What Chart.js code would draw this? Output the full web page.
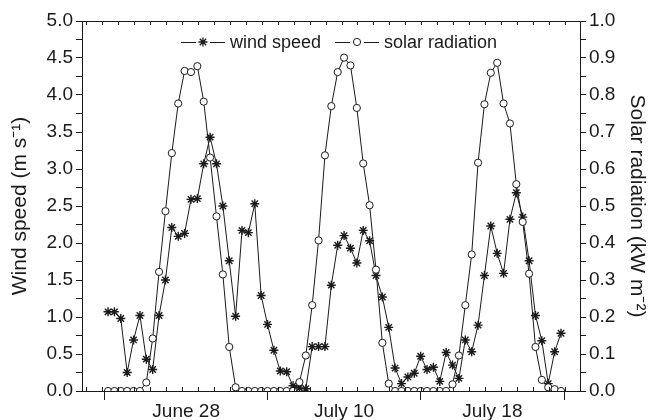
<!DOCTYPE html>
<html>
<head>
<meta charset="utf-8">
<script src="https://cdn.jsdelivr.net/npm/chart.js@4.4.1/dist/chart.umd.min.js"></script>
<style>
  html, body { margin: 0; padding: 0; background: #fff; }
  #wrap { width: 652px; height: 420px; }
</style>
</head>
<body>
<div id="wrap"><canvas id="chart" width="652" height="420"></canvas></div>
<script>
// hourly samples, three days of 24 h each
const dayLabels = ['June 28', 'July 10', 'July 18'];
const dayLabelPos = [12.25, 37, 60.25];
const dayBounds = [-0.5, 25, 49, 71.5];

const windSpeed = [
  1.07, 1.07, 0.98, 0.25, 0.69, 1.02, 0.43, 0.29, 1.02, 1.50, 2.21, 2.09,
  2.13, 2.59, 2.60, 3.07, 3.43, 3.07, 2.50, 1.76, 1.01, 2.17, 2.14, 2.53,
  1.29, 0.90, 0.55, 0.27, 0.26, 0.07, 0.04, 0.03, 0.60, 0.60, 0.60, 1.43,
  1.97, 2.10, 1.93, 1.73, 2.17, 2.03, 1.56, 1.27, 0.86, 0.31, 0.10, 0.19,
  0.24, 0.47, 0.29, 0.32, 0.13, 0.52, 0.35, 0.17, 0.69, 0.53, 0.89, 1.56,
  2.23, 1.86, 1.59, 2.32, 2.68, 2.35, 1.76, 1.02, 0.68, 0.10, 0.53, 0.78
];

const solarRad = [
  0, 0, 0, 0, 0, 0, 0.023, 0.142, 0.322, 0.486, 0.643, 0.777,
  0.865, 0.862, 0.878, 0.782, 0.631, 0.472, 0.315, 0.119, 0.010, 0, 0, 0,
  0, 0, 0, 0, 0, 0, 0.024, 0.096, 0.232, 0.407, 0.637, 0.770,
  0.862, 0.901, 0.880, 0.765, 0.615, 0.502, 0.328, 0.130, 0.020, 0, 0, 0,
  0, 0, 0, 0, 0, 0, 0.018, 0.096, 0.232, 0.369, 0.617, 0.775,
  0.860, 0.887, 0.777, 0.723, 0.559, 0.457, 0.317, 0.119, 0.030, 0.010, 0.005, 0
];

// small inward ticks along top and bottom frame
const minorX = [];
for (let v = -3.4; v < 74; v += 2.5) minorX.push(v);

const FONT = "'Liberation Sans', Arial, sans-serif";
const INK = '#1a1a1a';

const hours = windSpeed.map((_, i) => i);

function drawStar(ctx, x, y, r) {
  for (let k = 0; k < 4; k++) {
    const a = k * Math.PI / 4;
    ctx.moveTo(x - r * Math.cos(a), y - r * Math.sin(a));
    ctx.lineTo(x + r * Math.cos(a), y + r * Math.sin(a));
  }
}

const framePlugin = {
  id: 'frame',
  afterDraw(chart) {
    const { ctx, chartArea: a, scales } = chart;
    const x = scales.x;
    ctx.save();
    ctx.strokeStyle = INK;
    ctx.lineWidth = 1;
    ctx.beginPath();
    ctx.moveTo(a.left, Math.round(a.top) + 0.5);
    ctx.lineTo(a.right, Math.round(a.top) + 0.5);
    minorX.forEach(v => {
      const px = Math.round(x.getPixelForValue(v)) + 0.5;
      if (px < a.left + 2 || px > a.right - 2) return;
      ctx.moveTo(px, a.top);
      ctx.lineTo(px, a.top + 4);
      ctx.moveTo(px, a.bottom);
      ctx.lineTo(px, a.bottom - 4);
    });
    ctx.stroke();

    // legend: line-marker-line then text
    const items = chart.data.datasets.map(d => ({ label: d.label, style: d.pointStyle }));
    ctx.font = '18px ' + FONT;
    const sym = 44, gap = 5, between = 14;
    let total = 0;
    items.forEach((it, i) => {
      it.w = ctx.measureText(it.label).width;
      total += sym + gap + it.w + (i ? between : 0);
    });
    let cx = (a.left + a.right) / 2 + 8 - total / 2;
    const cy = a.top + 21;
    ctx.textBaseline = 'middle';
    ctx.fillStyle = INK;
    items.forEach(it => {
      ctx.beginPath();
      ctx.moveTo(cx, cy + 0.5);
      ctx.lineTo(cx + sym / 2 - 7, cy + 0.5);
      ctx.moveTo(cx + sym / 2 + 7, cy + 0.5);
      ctx.lineTo(cx + sym, cy + 0.5);
      ctx.stroke();
      ctx.beginPath();
      if (it.style === 'star') {
        ctx.lineWidth = 1.3;
        drawStar(ctx, cx + sym / 2, cy, 4.5);
        ctx.stroke();
        ctx.lineWidth = 1;
      } else {
        ctx.arc(cx + sym / 2, cy, 3.6, 0, Math.PI * 2);
        ctx.fillStyle = '#fff';
        ctx.fill();
        ctx.stroke();
        ctx.fillStyle = INK;
      }
      ctx.fillText(it.label, cx + sym + gap, cy + 1);
      cx += sym + gap + it.w + between;
    });
    ctx.restore();
  }
};

const ctx = document.getElementById('chart').getContext('2d');

new Chart(ctx, {
  type: 'line',
  data: {
    datasets: [
      {
        label: 'wind speed',
        data: hours.map(i => ({ x: i, y: windSpeed[i] })),
        yAxisID: 'y',
        borderColor: INK,
        borderWidth: 1,
        pointStyle: 'star',
        pointRadius: 4.5,
        pointBorderWidth: 1.4,
        pointBorderColor: INK,
        pointBackgroundColor: INK,
        tension: 0,
        order: 1
      },
      {
        label: 'solar radiation',
        data: hours.map(i => ({ x: i, y: solarRad[i] })),
        yAxisID: 'y2',
        borderColor: INK,
        borderWidth: 1,
        pointStyle: 'circle',
        pointRadius: 3.6,
        pointBorderWidth: 1,
        pointBorderColor: INK,
        pointBackgroundColor: '#fff',
        tension: 0,
        order: 0
      }
    ]
  },
  options: {
    responsive: false,
    animation: false,
    devicePixelRatio: 1,
    layout: { padding: { top: 21, left: 0, right: 0, bottom: 0 } },
    plugins: {
      legend: { display: false },
      tooltip: { enabled: false }
    },
    scales: {
      x: {
        type: 'linear',
        position: 'bottom',
        min: -4.08,
        max: 73.98,
        afterFit: s => { s.height = 29; },
        afterBuildTicks: s => {
          s.ticks = dayBounds.concat(dayLabelPos).sort((a, b) => a - b).map(v => ({ value: v }));
        },
        ticks: {
          autoSkip: false,
          maxRotation: 0,
          padding: 0,
          color: INK,
          font: { family: FONT, size: 19 },
          callback: v => {
            const k = dayLabelPos.indexOf(v);
            return k >= 0 ? dayLabels[k] : '';
          }
        },
        grid: {
          drawOnChartArea: false,
          tickLength: 9,
          color: c => (c.tick && dayBounds.includes(c.tick.value)) ? INK : 'rgba(0,0,0,0)'
        },
        border: { display: true, color: INK, width: 1 }
      },
      y: {
        position: 'left',
        min: 0,
        max: 5,
        afterFit: s => { s.width = 82; },
        ticks: {
          stepSize: 0.25,
          maxTicksLimit: 100,
          autoSkip: false,
          padding: 3,
          color: INK,
          font: { family: FONT, size: 19 },
          callback: v => (Math.round(v * 100) % 50 === 0 ? v.toFixed(1) : '')
        },
        grid: { drawOnChartArea: false, tickLength: 6, color: INK },
        border: { display: true, color: INK, width: 1 },
        title: {
          display: true,
          text: 'Wind speed (m s⁻¹)',
          color: INK,
          font: { family: FONT, size: 21 },
          padding: { top: 8, bottom: 0 }
        }
      },
      y2: {
        position: 'right',
        min: 0,
        max: 1,
        afterFit: s => { s.width = 72; },
        ticks: {
          stepSize: 0.05,
          maxTicksLimit: 100,
          autoSkip: false,
          padding: 3,
          color: INK,
          font: { family: FONT, size: 19 },
          callback: v => (Math.round(v * 100) % 10 === 0 ? v.toFixed(1) : '')
        },
        grid: { drawOnChartArea: false, tickLength: 6, color: INK },
        border: { display: true, color: INK, width: 1 },
        title: {
          display: true,
          text: 'Solar radiation (kW m⁻²)',
          color: INK,
          font: { family: FONT, size: 21 },
          padding: { top: 3, bottom: 0 }
        }
      }
    }
  },
  plugins: [framePlugin]
});
</script>
</body>
</html>
